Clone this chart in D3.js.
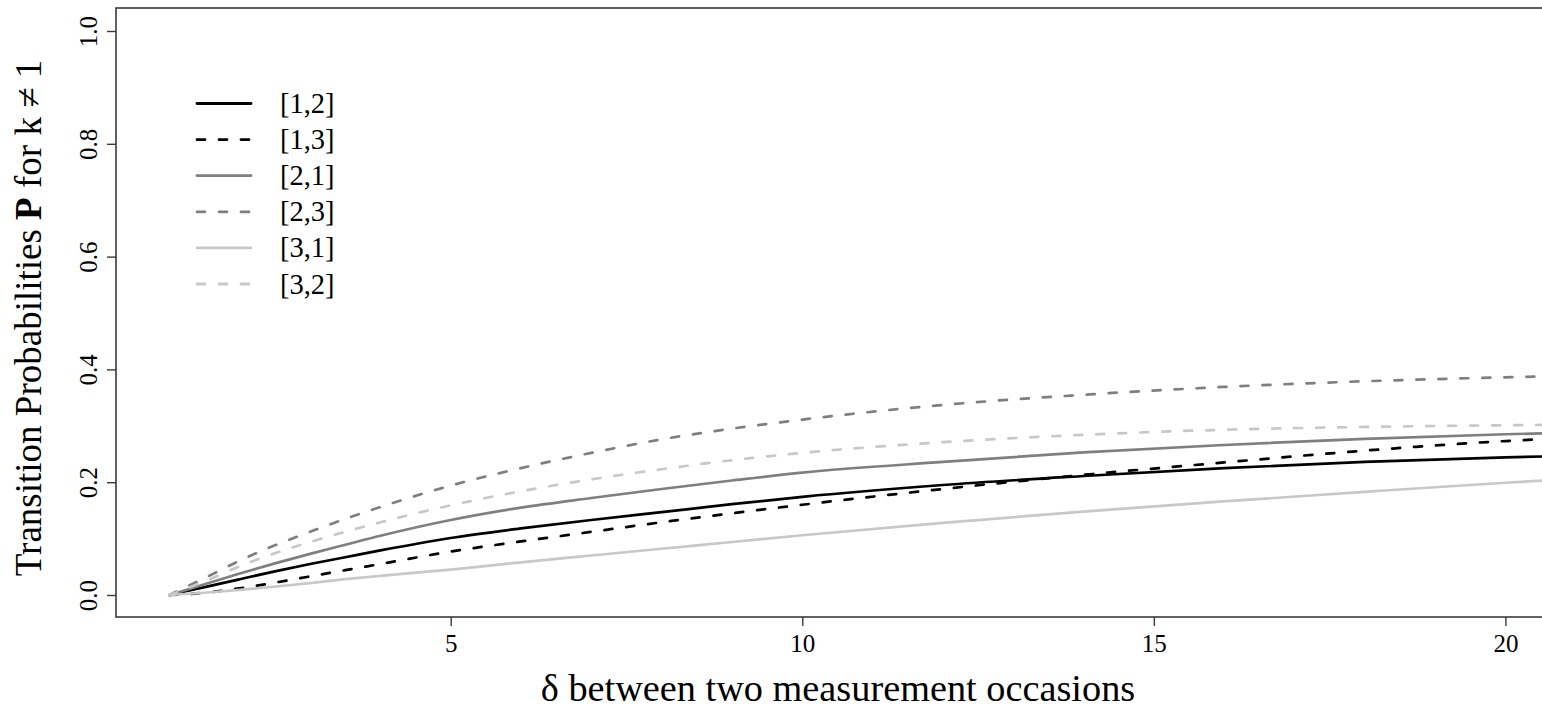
<!DOCTYPE html>
<html>
<head>
<meta charset="utf-8">
<script src="https://cdn.jsdelivr.net/npm/d3@7"></script>
<style>
  html, body { margin: 0; padding: 0; background: #fff; }
  svg { display: block; }
  text { font-family: "Liberation Serif", "Times New Roman", serif; fill: #000; }
</style>
</head>
<body>
<svg id="chart" width="1542" height="711"></svg>
<script>
// ---- data ----
const deltas = [1, 1.5, 2, 2.5, 3, 3.5, 4, 5, 6, 7, 8, 9, 10, 12, 14, 16, 18, 20, 21];
const p12 = [0, 0.014, 0.028, 0.042, 0.055, 0.067, 0.079, 0.101, 0.118, 0.133, 0.147, 0.161, 0.174, 0.195, 0.211, 0.225, 0.236, 0.244, 0.247];
const p13 = [0, 0.004, 0.012, 0.022, 0.033, 0.044, 0.055, 0.077, 0.095, 0.112, 0.129, 0.145, 0.160, 0.188, 0.213, 0.235, 0.256, 0.273, 0.279];
const p21 = [0, 0.019, 0.038, 0.056, 0.073, 0.089, 0.105, 0.133, 0.155, 0.172, 0.188, 0.203, 0.217, 0.236, 0.253, 0.266, 0.277, 0.285, 0.288];
const p23 = [0, 0.030, 0.061, 0.088, 0.112, 0.135, 0.156, 0.194, 0.225, 0.252, 0.276, 0.295, 0.311, 0.337, 0.355, 0.369, 0.379, 0.386, 0.389];
const p31 = [0, 0.004, 0.009, 0.015, 0.021, 0.028, 0.034, 0.045, 0.058, 0.070, 0.082, 0.094, 0.106, 0.128, 0.148, 0.166, 0.183, 0.199, 0.206];
const p32 = [0, 0.024, 0.051, 0.074, 0.094, 0.112, 0.129, 0.159, 0.184, 0.205, 0.223, 0.239, 0.252, 0.271, 0.284, 0.293, 0.298, 0.301, 0.302];
const seriesNames = ["[1,2]", "[1,3]", "[2,1]", "[2,3]", "[3,1]", "[3,2]"];
const seriesValues = [p12, p13, p21, p23, p31, p32];
const seriesColors = ["#000000", "#000000", "#7f7f7f", "#7f7f7f", "#c8c8c8", "#c8c8c8"];
const seriesDashed = [false, true, false, true, false, true];
const xTicks = [5, 10, 15, 20];
const yTicks = [0, 0.2, 0.4, 0.6, 0.8, 1.0];
const xTitle = "δ between two measurement occasions";

// ---- layout ----
const svg = d3.select("#chart");
const pLeft = 116, pTop = 8, pBottom = 617, pRight = 1632;
const x = d3.scaleLinear().domain([0.24, 21.8]).range([pLeft, pRight]);
const y = d3.scaleLinear().domain([-0.039, 1.0408]).range([pBottom, pTop]);

svg.append("rect").attr("width", 1542).attr("height", 711).attr("fill", "#fff");

svg.append("defs").append("clipPath").attr("id", "plotclip")
  .append("rect").attr("x", pLeft).attr("y", pTop).attr("width", pRight - pLeft).attr("height", pBottom - pTop);

// lines
const line = d3.line().x(d => x(d[0])).y(d => y(d[1])).curve(d3.curveMonotoneX);
const g = svg.append("g").attr("clip-path", "url(#plotclip)");
seriesValues.forEach((vals, i) => {
  g.append("path")
    .datum(deltas.map((d, j) => [d, vals[j]]))
    .attr("d", line)
    .attr("fill", "none")
    .attr("stroke", seriesColors[i])
    .attr("stroke-width", 2.7)
    .attr("stroke-linecap", "round")
    .attr("stroke-dasharray", seriesDashed[i] ? "8,14" : null);
});

// frame
svg.append("rect").attr("x", pLeft).attr("y", pTop).attr("width", pRight - pLeft).attr("height", pBottom - pTop)
  .attr("fill", "none").attr("stroke", "#3a3a3a").attr("stroke-width", 1.6);

// x axis
const xAxis = svg.append("g").attr("transform", `translate(0,${pBottom})`)
  .call(d3.axisBottom(x).tickValues(xTicks).tickSize(9).tickPadding(8).tickFormat(d3.format("d")));
xAxis.select(".domain").remove();
xAxis.selectAll("line").attr("stroke", "#3a3a3a").attr("stroke-width", 1.4);
xAxis.selectAll("text").attr("font-size", 25).attr("font-family", "Liberation Serif").attr("fill", "#000");

// y axis
const yAxis = svg.append("g").attr("transform", `translate(${pLeft},0)`)
  .call(d3.axisLeft(y).tickValues(yTicks).tickSize(9).tickFormat(d3.format(".1f")));
yAxis.select(".domain").remove();
yAxis.selectAll("line").attr("stroke", "#3a3a3a").attr("stroke-width", 1.4);
yAxis.selectAll("text")
  .attr("font-size", 25).attr("font-family", "Liberation Serif").attr("fill", "#000")
  .attr("x", null).attr("dy", null)
  .attr("text-anchor", "middle")
  .attr("transform", "translate(-19,0) rotate(-90)");

// axis titles
svg.append("text").attr("x", 838).attr("y", 701).attr("text-anchor", "middle")
  .attr("font-size", 38.3).text(xTitle);

const yt = svg.append("text").attr("transform", "translate(41,318) rotate(-90)")
  .attr("text-anchor", "middle").attr("font-size", 37);
yt.append("tspan").text("Transition Probabilities ");
yt.append("tspan").attr("font-weight", "bold").text("P");
yt.append("tspan").text(" for  k \u2260 1");

// legend
const leg = svg.append("g");
seriesNames.forEach((name, i) => {
  const ly = 103.5 + i * 36.1;
  leg.append("line").attr("x1", 197).attr("x2", 251).attr("y1", ly).attr("y2", ly)
    .attr("stroke", seriesColors[i]).attr("stroke-width", 2.8).attr("stroke-linecap", "round")
    .attr("stroke-dasharray", seriesDashed[i] ? "8,14" : null);
  leg.append("text").attr("x", 280).attr("y", ly + 9.5).attr("font-size", 28.5).text(name);
});
</script>
</body>
</html>
